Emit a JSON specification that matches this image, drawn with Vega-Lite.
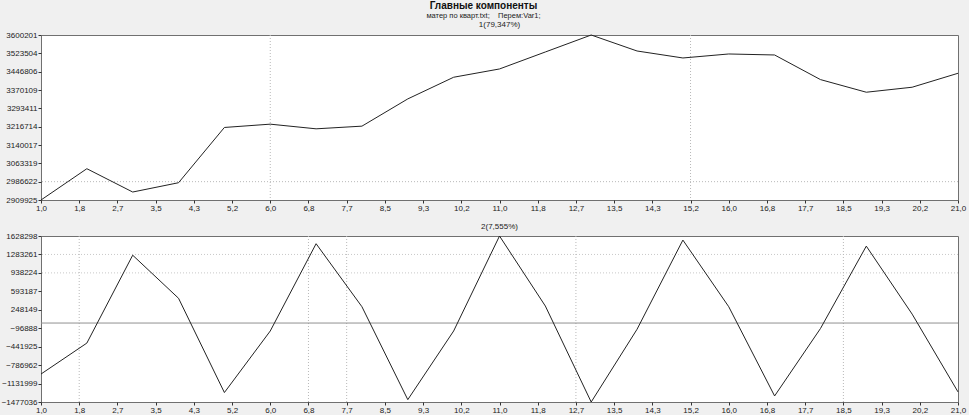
{
  "$schema": "https://vega.github.io/schema/vega-lite/v6.json",
  "background": "#f0f0f0",
  "padding": {"left": 0, "top": 1, "right": 6, "bottom": 0},
  "config": {
    "font": "Liberation Sans",
    "view": {"fill": "white", "stroke": "#707070", "strokeWidth": 1},
    "axis": {"grid": false, "domain": false, "labelFont": "Liberation Sans", "labelFontSize": 8, "labelColor": "#222222", "tickColor": "#333333", "tickSize": 3, "title": null, "labelPadding": 1, "labelOverlap": false, "labelFlush": false, "labelSeparation": 0}
  },
  "title": {
    "text": "Главные компоненты",
    "subtitle": "матер по кварт.txt;\u00a0\u00a0\u00a0 Перем:Var1;",
    "fontSize": 10,
    "fontWeight": "bold",
    "color": "#111111",
    "subtitleFontSize": 7.5,
    "subtitleColor": "#222222",
    "subtitlePadding": 1,
    "anchor": "middle",
    "offset": 1
  },
  "datasets": {
    "pc": [
      {"x": 1, "c1": 2909925, "c2": -954000},
      {"x": 2, "c1": 3040800, "c2": -375000},
      {"x": 3, "c1": 2943300, "c2": 1269000},
      {"x": 4, "c1": 2982200, "c2": 463000},
      {"x": 5, "c1": 3213400, "c2": -1300000},
      {"x": 6, "c1": 3227200, "c2": -148600},
      {"x": 7, "c1": 3207700, "c2": 1484000},
      {"x": 8, "c1": 3218900, "c2": 305000},
      {"x": 9, "c1": 3332900, "c2": -1433000},
      {"x": 10, "c1": 3423500, "c2": -148600},
      {"x": 11, "c1": 3458100, "c2": 1628298},
      {"x": 12, "c1": 3529200, "c2": 318000},
      {"x": 13, "c1": 3600201, "c2": -1477036},
      {"x": 14, "c1": 3533300, "c2": -116400},
      {"x": 15, "c1": 3504100, "c2": 1552000},
      {"x": 16, "c1": 3520800, "c2": 305000},
      {"x": 17, "c1": 3516600, "c2": -1364000},
      {"x": 18, "c1": 3413700, "c2": -103000},
      {"x": 19, "c1": 3360800, "c2": 1439000},
      {"x": 20, "c1": 3381700, "c2": 167000},
      {"x": 21, "c1": 3440100, "c2": -1288000}
    ],
    "vgrid1": [{"x": 6.0}, {"x": 15.1666667}],
    "hgrid1": [{"y": 2986622}],
    "vgrid2": [{"x": 1.8333333}, {"x": 6.8333333}, {"x": 7.6666667}, {"x": 12.6666667}, {"x": 18.5}],
    "hgrid2": [{"y": 938224}, {"y": 1283261}],
    "zero2": [{"y": 0}]
  },
  "spacing": 9,
  "vconcat": [
    {
      "width": 917,
      "height": 165,
      "title": {"text": "1(79,347%)", "fontSize": 8, "fontWeight": "normal", "color": "#222222", "offset": 2},
      "encoding": {
        "x": {
          "field": "x", "type": "quantitative",
          "scale": {"domain": [1, 21], "nice": false, "zero": false},
          "axis": {
            "values": [1, 1.8333333, 2.6666667, 3.5, 4.3333333, 5.1666667, 6, 6.8333333, 7.6666667, 8.5, 9.3333333, 10.1666667, 11, 11.8333333, 12.6666667, 13.5, 14.3333333, 15.1666667, 16, 16.8333333, 17.6666667, 18.5, 19.3333333, 20.1666667, 21],
            "labelExpr": "replace(format(datum.value, '.1f'), '.', ',')",
            "labelFlush": false, "labelOverlap": false
          }
        },
        "y": {
          "field": "y", "type": "quantitative",
          "scale": {"domain": [2909925, 3600201], "nice": false, "zero": false},
          "axis": {
            "values": [2909925, 2986622, 3063319, 3140017, 3216714, 3293411, 3370109, 3446806, 3523504, 3600201],
            "format": "d", "labelOverlap": false, "labelFlush": false, "minExtent": 33, "maxExtent": 33
          }
        }
      },
      "layer": [
        {
          "data": {"name": "hgrid1"},
          "mark": {"type": "rule", "color": "#b8b8b8", "strokeDash": [1, 2], "strokeWidth": 1},
          "encoding": {"x": null}
        },
        {
          "data": {"name": "vgrid1"},
          "mark": {"type": "rule", "color": "#b8b8b8", "strokeDash": [1, 2], "strokeWidth": 1},
          "encoding": {"y": null}
        },
        {
          "data": {"name": "pc"},
          "mark": {"type": "line", "color": "#222222", "strokeWidth": 1},
          "encoding": {"y": {"field": "c1"}}
        }
      ]
    },
    {
      "width": 917,
      "height": 166,
      "title": {"text": "2(7,555%)", "fontSize": 8, "fontWeight": "normal", "color": "#222222", "offset": 1},
      "encoding": {
        "x": {
          "field": "x", "type": "quantitative",
          "scale": {"domain": [1, 21], "nice": false, "zero": false},
          "axis": {
            "values": [1, 1.8333333, 2.6666667, 3.5, 4.3333333, 5.1666667, 6, 6.8333333, 7.6666667, 8.5, 9.3333333, 10.1666667, 11, 11.8333333, 12.6666667, 13.5, 14.3333333, 15.1666667, 16, 16.8333333, 17.6666667, 18.5, 19.3333333, 20.1666667, 21],
            "labelExpr": "replace(format(datum.value, '.1f'), '.', ',')",
            "labelFlush": false, "labelOverlap": false
          }
        },
        "y": {
          "field": "y", "type": "quantitative",
          "scale": {"domain": [-1477036, 1628298], "nice": false, "zero": false},
          "axis": {
            "values": [-1477036, -1131999, -786962, -441925, -96888, 248149, 593187, 938224, 1283261, 1628298],
            "format": "d", "labelOverlap": false, "labelFlush": false, "minExtent": 33, "maxExtent": 33
          }
        }
      },
      "layer": [
        {
          "data": {"name": "hgrid2"},
          "mark": {"type": "rule", "color": "#c8c8c8", "strokeDash": [1, 2], "strokeWidth": 1},
          "encoding": {"x": null}
        },
        {
          "data": {"name": "vgrid2"},
          "mark": {"type": "rule", "color": "#b8b8b8", "strokeDash": [1, 2], "strokeWidth": 1},
          "encoding": {"y": null}
        },
        {
          "data": {"name": "zero2"},
          "mark": {"type": "rule", "color": "#909090", "strokeWidth": 1},
          "encoding": {"x": null}
        },
        {
          "data": {"name": "pc"},
          "mark": {"type": "line", "color": "#222222", "strokeWidth": 1},
          "encoding": {"y": {"field": "c2"}}
        }
      ]
    }
  ]
}
